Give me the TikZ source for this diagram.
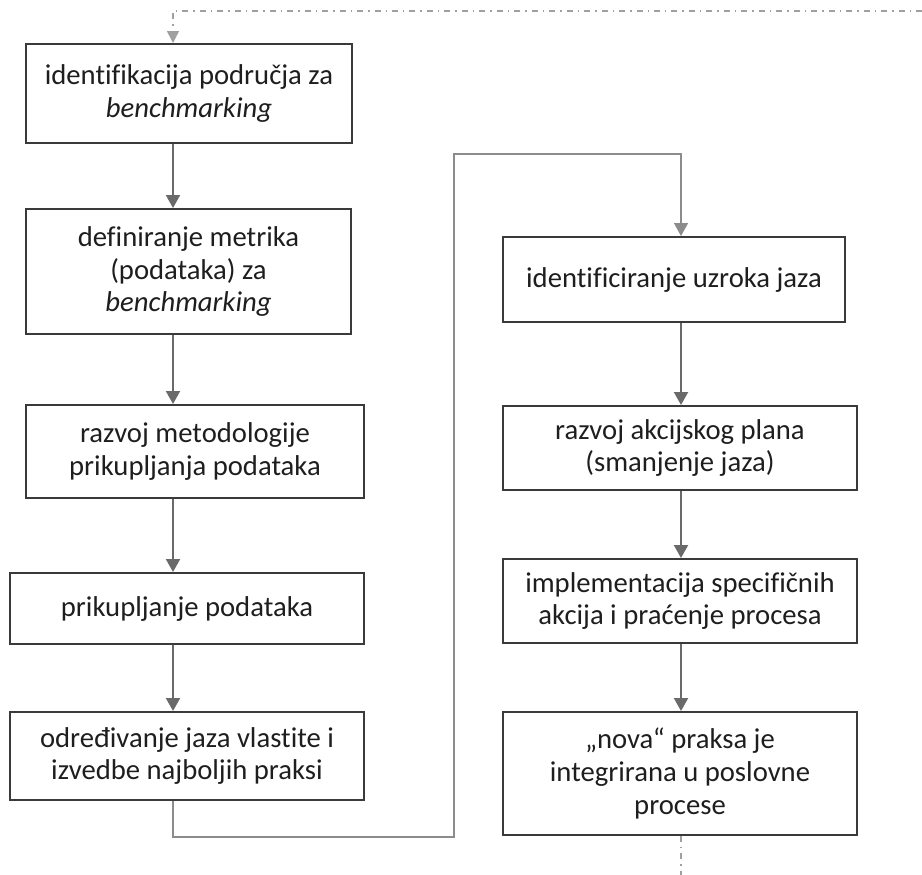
\documentclass[tikz,border=0pt]{standalone}
\usepackage{fontspec}
\setmainfont{Carlito}[Ligatures=NoCommon]
\usetikzlibrary{arrows.meta}
\definecolor{boxline}{HTML}{3A3A3A}
\definecolor{txt}{HTML}{1E1E1E}
\definecolor{arrowc}{HTML}{6A6A6A}
\definecolor{linkc}{HTML}{8C8C8C}
\definecolor{loopc}{HTML}{A0A0A0}
\tikzset{
  box/.style={draw=boxline, line width=1.5pt, rectangle, inner sep=0pt,
    align=center, text=txt, font=\fontsize{21.5}{24.5}\selectfont},
  flow/.style={draw=arrowc, line width=1.6pt,
    -{Triangle[width=10.5pt,length=9.75pt]}},
  link/.style={draw=linkc, line width=1.1pt, -{Triangle[width=10.5pt,length=9.75pt]}},
  loop/.style={draw=loopc, line width=1.1pt,
    dash pattern=on 4.5pt off 3.75pt on 1.1pt off 3.75pt},
  looparrow/.style={loop, -{Triangle[width=9pt,length=9pt]}}
}
\begin{document}
\begin{tikzpicture}[x=0.75pt,y=-0.75pt]
\useasboundingbox (0,0) rectangle (922,875);

% left column
\node[box, minimum width=244.5pt, minimum height=74.25pt] (b1) at (189,93.5)
  {identifikacija područja za\\\textit{benchmarking}};
\node[box, minimum width=243.75pt, minimum height=93.75pt] (b2) at (188.5,271.5)
  {definiranje metrika\\(podataka) za\\\textit{benchmarking}};
\node[box, minimum width=253.5pt, minimum height=69.75pt] (b3) at (195,451.5)
  {razvoj metodologije\\prikupljanja podataka};
\node[box, minimum width=265.5pt, minimum height=53.25pt] (b4) at (187,608.5)
  {prikupljanje podataka};
\node[box, minimum width=265.5pt, minimum height=66pt] (b5) at (187,756)
  {određivanje jaza vlastite i\\izvedbe najboljih praksi};

% right column
\node[box, minimum width=256.5pt, minimum height=63.75pt] (b6) at (674,279.5)
  {identificiranje uzroka jaza};
\node[box, minimum width=265.5pt, minimum height=63pt] (b7) at (680,448)
  {razvoj akcijskog plana\\(smanjenje jaza)};
\node[box, minimum width=265.5pt, minimum height=63pt] (b8) at (680,601)
  {implementacija specifičnih\\akcija i praćenje procesa};
\node[box, minimum width=265.5pt, minimum height=92.25pt] (b9) at (680,773.5)
  {„nova“ praksa je\\integrirana u poslovne\\procese};

% connector columns and routing points
\coordinate (lx) at (173,0);
\coordinate (rx) at (681,0);
\coordinate (low) at (454,837);
\coordinate (high) at (454,154);
\coordinate (topright) at (922,11);
\coordinate (bottomend) at (681,875);

% flow arrows
\draw[flow] (b1.south -| lx) -- (b2.north -| lx);
\draw[flow] (b2.south -| lx) -- (b3.north -| lx);
\draw[flow] (b3.south -| lx) -- (b4.north -| lx);
\draw[flow] (b4.south -| lx) -- (b5.north -| lx);
\draw[link] (b5.south -| lx) |- (low) -- (high) -| (b6.north -| rx);
\draw[flow] (b6.south -| rx) -- (b7.north -| rx);
\draw[flow] (b7.south -| rx) -- (b8.north -| rx);
\draw[flow] (b8.south -| rx) -- (b9.north -| rx);

% feedback loop
\draw[looparrow] (topright) -| (b1.north -| lx);
\draw[loop] (b9.south -| rx) -- (bottomend);
\end{tikzpicture}
\end{document}
